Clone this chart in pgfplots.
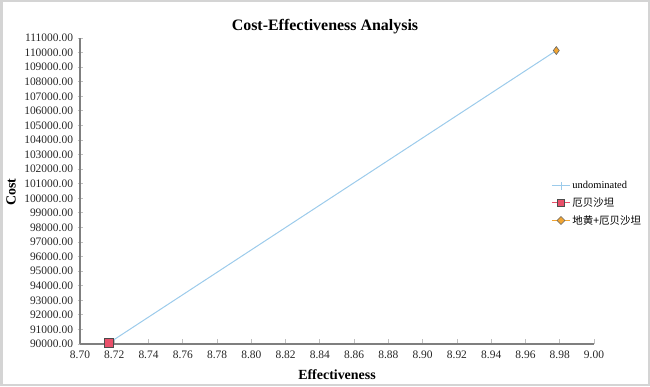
\documentclass[border=0pt]{standalone}
\usepackage{fontspec}
\setmainfont{Liberation Serif}
\newfontfamily\cjk{Noto Sans CJK SC}
\usepackage{pgfplots}
\pgfplotsset{compat=1.18}
\definecolor{lineblue}{HTML}{9CCBEB}
\definecolor{sqred}{HTML}{E9506A}
\definecolor{dmorange}{HTML}{F2A531}
\definecolor{axgray}{HTML}{7F7F7F}
\definecolor{framegray}{HTML}{D4D4D4}
\begin{document}
\begin{tikzpicture}[x=1bp,y=1bp]
\path (0,0) rectangle (650,386);
\draw[framegray,line width=2bp] (1.5,1.5) rectangle (648.5,384.5);
\begin{axis}[
  at={(80bp,42bp)}, anchor=south west,
  scale only axis, width=514bp, height=306bp,
  xmin=8.70, xmax=9.00, ymin=90000, ymax=111000,
  axis x line=bottom, axis y line=left,
  axis line style={axgray, line width=1.2bp, -},
  xtick={8.70,8.72,...,9.001},
  ytick={90000,91000,...,111000},
  x tick label style={/pgf/number format/fixed, /pgf/number format/fixed zerofill, /pgf/number format/precision=2, yshift=-3bp},
  y tick label style={/pgf/number format/fixed, /pgf/number format/fixed zerofill, /pgf/number format/precision=2, /pgf/number format/1000 sep={}, xshift=-1bp},
  /pgf/number format/assume math mode=true,
  tick label style={font=\fontsize{11.5}{13}\selectfont, black!85},
  xtick style={axgray!50, line width=0.8bp},
  ytick style={axgray!50, line width=0.8bp},
  major tick length=5bp,
  xtick align=inside, ytick align=center,
  scaled x ticks=false, scaled y ticks=false,
  clip=false,
  legend style={draw=none, fill=none, at={(0.911,0.545)}, anchor=north west,
    font=\fontsize{10.5}{12}\selectfont, row sep=3.5bp},
  legend cell align=left,
]
\addplot[lineblue, line width=1bp, mark=+, mark size=3bp,
  legend image code/.code={\draw[lineblue,line width=1bp] (0bp,0bp) -- (18bp,0bp); \draw[lineblue,line width=0.8bp] (9bp,-4bp) -- (9bp,4bp);}]
  coordinates {(8.717,90080) (8.978,110140)};
\addlegendentry{undominated}
\addplot[only marks, mark=square*, mark size=4.5bp, mark options={fill=sqred, draw=black!70, line width=0.7bp},
  legend image code/.code={\draw[sqred,line width=0.8bp] (0bp,0bp) -- (18bp,0bp); \filldraw[draw=black!70, fill=sqred, line width=0.6bp] (5.5bp,-3.5bp) rectangle (12.5bp,3.5bp);}]
  coordinates {(8.717,90080)};
\addlegendentry{\cjk 厄贝沙坦}
\addplot[only marks, mark=diamond*, mark size=4bp, mark options={fill=dmorange, draw=black!60, line width=0.6bp},
  legend image code/.code={\draw[dmorange,line width=0.8bp] (0bp,0bp) -- (18bp,0bp); \filldraw[draw=black!60, fill=dmorange, line width=0.5bp] (9bp,-4bp) -- (13bp,0bp) -- (9bp,4bp) -- (5bp,0bp) -- cycle;}]
  coordinates {(8.978,110140)};
\addlegendentry{\cjk 地黄+厄贝沙坦}
\end{axis}
\node[font=\fontsize{16}{18}\selectfont\bfseries] at (325,359) {Cost-Effectiveness Analysis};
\node[font=\fontsize{14}{16}\selectfont\bfseries] at (337,11) {Effectiveness};
\node[font=\fontsize{14}{16}\selectfont\bfseries, rotate=90] at (11,194) {Cost};
\end{tikzpicture}
\end{document}
